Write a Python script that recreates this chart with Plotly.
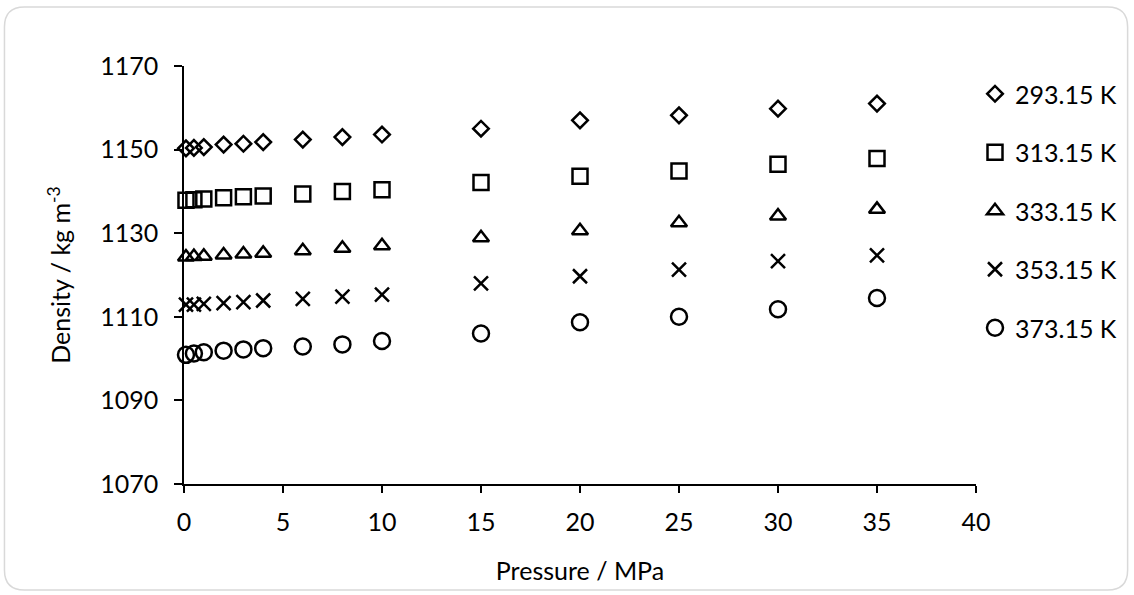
import plotly.graph_objects as go

pressure = [0.1, 0.5, 1, 2, 3, 4, 6, 8, 10, 15, 20, 25, 30, 35]
rho_293 = [1150.3, 1150.4, 1150.6, 1151.2, 1151.4, 1151.8, 1152.4, 1153.0, 1153.6, 1155.0, 1157.0, 1158.2, 1159.8, 1161.0]
rho_313 = [1137.9, 1138.0, 1138.2, 1138.5, 1138.7, 1138.9, 1139.4, 1140.0, 1140.4, 1142.1, 1143.6, 1144.9, 1146.5, 1147.9]
rho_333 = [1124.3, 1124.4, 1124.5, 1124.8, 1125.0, 1125.2, 1125.8, 1126.4, 1127.0, 1128.9, 1130.6, 1132.5, 1134.1, 1135.7]
rho_353 = [1112.9, 1112.9, 1113.1, 1113.3, 1113.5, 1113.9, 1114.3, 1114.8, 1115.3, 1118.0, 1119.7, 1121.3, 1123.3, 1124.7]
rho_373 = [1100.9, 1101.2, 1101.5, 1101.9, 1102.2, 1102.5, 1102.9, 1103.4, 1104.2, 1106.0, 1108.7, 1110.0, 1111.8, 1114.5]

series_names = ["293.15 K", "313.15 K", "333.15 K", "353.15 K", "373.15 K"]
series_values = [rho_293, rho_313, rho_333, rho_353, rho_373]
symbols = ["diamond-open", "square-open", "triangle-up-open", "x-thin-open", "circle-open"]
sizes = [12, 15, 14, 14, 16]

x_ticks = [0, 5, 10, 15, 20, 25, 30, 35, 40]
y_ticks = [1070, 1090, 1110, 1130, 1150, 1170]

FONT = "Lato"
FS = 25
W, H = 1134, 595
L, R, T, B = 184, 156, 66, 111
PW, PH = W - L - R, H - T - B

fig = go.Figure()
for i, (name, vals, sym, sz) in enumerate(zip(series_names, series_values, symbols, sizes)):
    fig.add_trace(go.Scatter(
        x=pressure, y=vals, mode="markers", name=name,
        legendgroup=f"g{i}",
        cliponaxis=False,
        marker=dict(symbol=sym, size=sz, color="black", line=dict(width=2.5, color="black")),
    ))

def px(x):
    return (x - L) / PW

def py(y):
    return (H - B - y) / PH

# rounded border
x0, x1, y0, y1, r = 4, 1130, 7, 590, 20
path = (
    f"M {px(x0 + r)},{py(y0)} L {px(x1 - r)},{py(y0)} "
    f"Q {px(x1)},{py(y0)} {px(x1)},{py(y0 + r)} "
    f"L {px(x1)},{py(y1 - r)} Q {px(x1)},{py(y1)} {px(x1 - r)},{py(y1)} "
    f"L {px(x0 + r)},{py(y1)} Q {px(x0)},{py(y1)} {px(x0)},{py(y1 - r)} "
    f"L {px(x0)},{py(y0 + r)} Q {px(x0)},{py(y0)} {px(x0 + r)},{py(y0)} Z"
)
fig.add_shape(type="path", path=path, xref="paper", yref="paper",
              line=dict(color="#d9d9d9", width=1.5), layer="below")

fig.update_layout(
    width=W, height=H,
    margin=dict(l=L, r=R, t=T, b=B),
    paper_bgcolor="white", plot_bgcolor="white",
    font=dict(family=FONT, size=FS, color="black"),
    showlegend=True,
    legend=dict(x=px(977), xanchor="left", y=py(71), yanchor="top",
                font=dict(family=FONT, size=FS, color="black"),
                tracegroupgap=23, bgcolor="rgba(0,0,0,0)"),
    xaxis=dict(range=[0, 40], tickvals=x_ticks, ticktext=[str(v) for v in x_ticks],
               showgrid=False, zeroline=False, showline=True, linecolor="black", linewidth=1.5,
               ticks="outside", ticklen=7, tickcolor="black", tickwidth=1.5,
               ticklabelstandoff=8,
               tickfont=dict(family=FONT, size=FS),
               title=dict(text="Pressure / MPa", font=dict(family=FONT, size=FS), standoff=28)),
    yaxis=dict(range=[1070, 1170], tickvals=y_ticks, ticktext=[str(v) for v in y_ticks],
               showgrid=False, zeroline=False, showline=True, linecolor="black", linewidth=1.5,
               ticks="outside", ticklen=8, tickcolor="black", tickwidth=1.5,
               ticklabelstandoff=11,
               tickfont=dict(family=FONT, size=FS),
               title=dict(text="Density / kg m<sup>-3</sup>", font=dict(family=FONT, size=FS), standoff=22)),
)

fig.write_html("out.html")
